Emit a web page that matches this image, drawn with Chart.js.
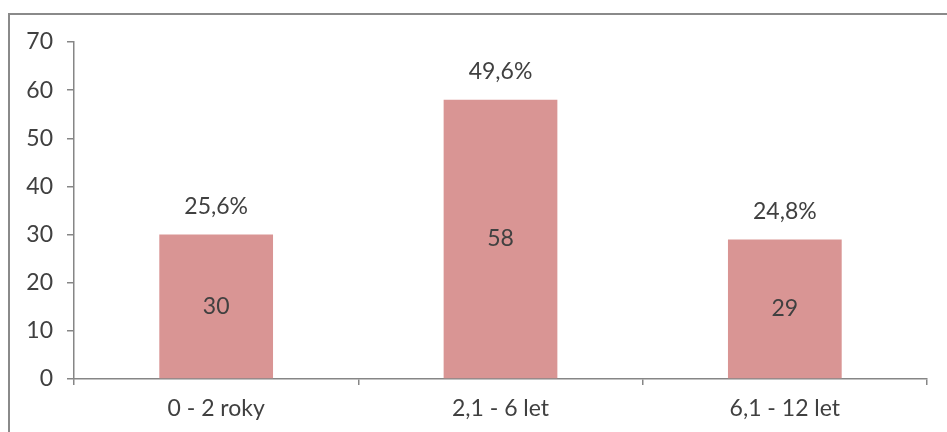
<!DOCTYPE html>
<html>
<head>
<meta charset="utf-8">
<script src="https://cdn.jsdelivr.net/npm/chart.js@4"></script>
<style>
  html, body { margin: 0; padding: 0; background: #fff; }
  #wrap { position: relative; width: 947px; height: 432px; overflow: hidden; }
  #frame { position: absolute; left: 8px; top: 13px; width: 960px; height: 440px;
           border-left: 2px solid #8a8a8a; border-top: 2px solid #8a8a8a; box-sizing: border-box; }
  canvas { position: absolute; left: 0; top: 0; }
</style>
</head>
<body>
<div id="wrap">
  <div id="frame"></div>
  <canvas id="c" width="947" height="432"></canvas>
</div>
<script>
const categories = ['0 - 2 roky', '2,1 - 6 let', '6,1 - 12 let'];
const counts = [30, 58, 29];
const yTicks = [0, 10, 20, 30, 40, 50, 60, 70];

const total = counts.reduce((a, b) => a + b, 0);
const shares = counts.map(v => (v / total * 100).toFixed(1).replace('.', ',') + '%');

const FONT = 'Lato, "Open Sans", sans-serif';
const SIZE = 23;
const TEXT = '#404040';
const AXIS = '#868686';

// Draws the count in the middle of each bar and its share above it
const barLabels = {
  id: 'barLabels',
  afterDatasetsDraw(chart) {
    const ctx = chart.ctx;
    const meta = chart.getDatasetMeta(0);
    ctx.save();
    ctx.font = SIZE + 'px ' + FONT;
    ctx.fillStyle = TEXT;
    ctx.textAlign = 'center';
    ctx.textBaseline = 'middle';
    meta.data.forEach((bar, i) => {
      ctx.fillText(String(counts[i]), bar.x, (bar.y + bar.base) / 2);
      ctx.fillText(shares[i], bar.x, bar.y - 28);
    });
    ctx.restore();
  }
};

new Chart(document.getElementById('c'), {
  type: 'bar',
  data: {
    labels: categories,
    datasets: [{
      data: counts,
      backgroundColor: '#d99594',
      borderWidth: 0,
      categoryPercentage: 0.8,
      barPercentage: 0.5
    }]
  },
  options: {
    responsive: false,
    animation: false,
    events: [],
    layout: { padding: { left: 0, right: 20, top: 42, bottom: 0 } },
    plugins: { legend: { display: false }, tooltip: { enabled: false } },
    scales: {
      x: {
        grid: { offset: true, drawOnChartArea: false, drawTicks: true, tickLength: 6, color: AXIS, lineWidth: 1.5 },
        border: { color: AXIS, width: 1.5 },
        ticks: { color: TEXT, font: { family: FONT, size: SIZE }, padding: 10 },
        afterFit(axis) { axis.height = 53; }
      },
      y: {
        min: 0, max: 70,
        afterBuildTicks(axis) { axis.ticks = yTicks.map(v => ({ value: v })); },
        grid: { drawOnChartArea: false, drawTicks: true, tickLength: 7, color: AXIS, lineWidth: 1.5 },
        border: { color: AXIS, width: 1.5 },
        ticks: { color: TEXT, font: { family: FONT, size: SIZE }, padding: 14 },
        afterFit(axis) { axis.width = 74; }
      }
    }
  },
  plugins: [barLabels]
});
</script>
</body>
</html>
